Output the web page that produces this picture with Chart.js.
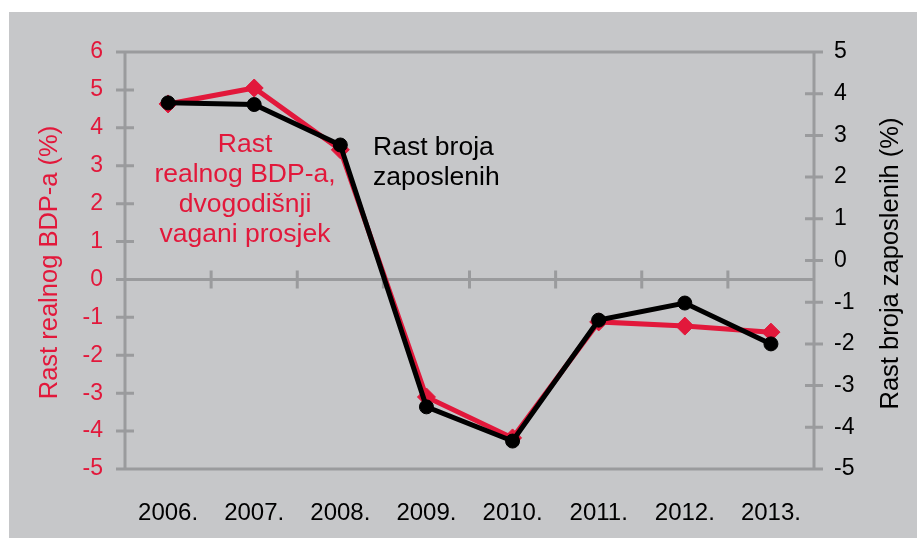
<!DOCTYPE html>
<html>
<head>
<meta charset="utf-8">
<script src="https://cdn.jsdelivr.net/npm/chart.js"></script>
<style>
  html, body { margin: 0; padding: 0; background: #fff; }
  #app { width: 917px; height: 543px; }
</style>
</head>
<body>
<div id="app">
  <canvas id="myChart" width="917" height="543"></canvas>
</div>
<script>

    const years = ['2006.', '2007.', '2008.', '2009.', '2010.', '2011.', '2012.', '2013.'];

    // rast realnog BDP-a, dvogodisnji vagani prosjek (lijeva os)
    const gdpGrowth = [4.63, 5.05, 3.42, -3.1, -4.18, -1.12, -1.23, -1.39];

    // rast broja zaposlenih (desna os)
    const employmentGrowth = [3.78, 3.74, 2.77, -3.51, -4.33, -1.43, -1.02, -2.0];

    const leftRange = [-5, 6];
    const rightRange = [-5, 5];

    const red = '#e2183b';
    const axisGrey = '#9a9b9d';
    const fontFamily = "'Liberation Sans', Arial, sans-serif";

    Chart.defaults.font.family = fontFamily;

    const frame = {
        id: 'frame',
        beforeDraw(chart) {
            const {ctx, width, height} = chart;
            ctx.save();
            ctx.fillStyle = '#ffffff';
            ctx.fillRect(0, 0, width, height);
            ctx.fillStyle = '#c6c7c9';
            ctx.fillRect(9, 12, width - 9, 526);
            ctx.restore();
        },
        beforeDatasetsDraw(chart) {
            const {ctx, chartArea: {left, right, top, bottom}, scales: {x, y, y1}} = chart;
            ctx.save();
            ctx.strokeStyle = axisGrey;
            ctx.lineWidth = 3;
            ctx.beginPath();
            ctx.rect(left, top, right - left, bottom - top);
            const zero = y.getPixelForValue(0);
            ctx.moveTo(left, zero);
            ctx.lineTo(right, zero);
            y.ticks.forEach(t => {
                const p = y.getPixelForValue(t.value);
                ctx.moveTo(left - 9, p);
                ctx.lineTo(left + 9, p);
            });
            y1.ticks.forEach(t => {
                const p = y1.getPixelForValue(t.value);
                ctx.moveTo(right - 9, p);
                ctx.lineTo(right + 9, p);
            });
            for (let i = 1; i < years.length; i++) {
                const p = (x.getPixelForValue(i - 1) + x.getPixelForValue(i)) / 2;
                ctx.moveTo(p, zero - 9);
                ctx.lineTo(p, zero + 9);
            }
            ctx.stroke();

            // axis titles, both read bottom to top
            const mid = (top + bottom) / 2;
            ctx.font = '25.5px ' + fontFamily;
            ctx.textAlign = 'center';
            ctx.textBaseline = 'middle';
            ctx.save();
            ctx.translate(50, mid + 2);
            ctx.rotate(-Math.PI / 2);
            ctx.fillStyle = red;
            ctx.fillText('Rast realnog BDP-a (%)', 0, 0);
            ctx.restore();
            ctx.save();
            ctx.translate(891, mid + 3);
            ctx.rotate(-Math.PI / 2);
            ctx.fillStyle = '#000';
            ctx.fillText('Rast broja zaposlenih (%)', 0, 0);
            ctx.restore();
            ctx.restore();
        },
        afterDraw(chart) {
            const {ctx} = chart;
            ctx.save();
            ctx.font = '26.5px ' + fontFamily;
            ctx.textBaseline = 'alphabetic';
            ctx.textAlign = 'center';
            ctx.fillStyle = red;
            ['Rast', 'realnog BDP-a,', 'dvogodišnji', 'vagani prosjek'].forEach((line, i) => {
                ctx.fillText(line, 245, 152 + i * 30);
            });
            ctx.textAlign = 'left';
            ctx.fillStyle = '#000';
            ['Rast broja', 'zaposlenih'].forEach((line, i) => {
                ctx.fillText(line, 373, 155 + i * 30);
            });
            ctx.restore();
        }
    };

    const data = {
        labels: years,
        datasets: [
            {
                label: 'Rast broja zaposlenih',
                data: employmentGrowth,
                yAxisID: 'y1',
                borderColor: '#000',
                backgroundColor: '#000',
                borderWidth: 5,
                pointStyle: 'circle',
                pointRadius: 7,
                pointBorderWidth: 1,
                tension: 0,
                order: 1
            },
            {
                label: 'Rast realnog BDP-a',
                data: gdpGrowth,
                yAxisID: 'y',
                borderColor: red,
                backgroundColor: red,
                borderWidth: 5,
                pointStyle: 'rectRot',
                pointRadius: 9,
                pointBorderWidth: 1,
                tension: 0,
                order: 2
            }
        ]
    };

    const config = {
        type: 'line',
        data,
        options: {
            responsive: false,
            animation: false,
            layout: {
                padding: {top: 52, left: 0, right: 0, bottom: 0}
            },
            plugins: {
                legend: {display: false},
                tooltip: {enabled: false},
                title: {display: false}
            },
            scales: {
                x: {
                    offset: true,
                    grid: {display: false, drawTicks: false},
                    border: {display: false},
                    ticks: {
                        color: '#000',
                        font: {size: 24},
                        padding: 30,
                        maxRotation: 0
                    },
                    afterFit(scale) { scale.height = 74; }
                },
                y: {
                    position: 'left',
                    min: leftRange[0],
                    max: leftRange[1],
                    grid: {display: false, drawTicks: false},
                    border: {display: false},
                    ticks: {
                        stepSize: 1,
                        color: red,
                        font: {size: 23},
                        padding: 22
                    },
                    afterFit(scale) { scale.width = 125; }
                },
                y1: {
                    position: 'right',
                    min: rightRange[0],
                    max: rightRange[1],
                    grid: {display: false, drawTicks: false},
                    border: {display: false},
                    ticks: {
                        stepSize: 1,
                        color: '#000',
                        font: {size: 23},
                        padding: 20
                    },
                    afterFit(scale) { scale.width = 103; }
                }
            }
        },
        plugins: [frame]
    };

    const myChart = new Chart(document.getElementById('myChart'), config);
</script>
</body>
</html>
